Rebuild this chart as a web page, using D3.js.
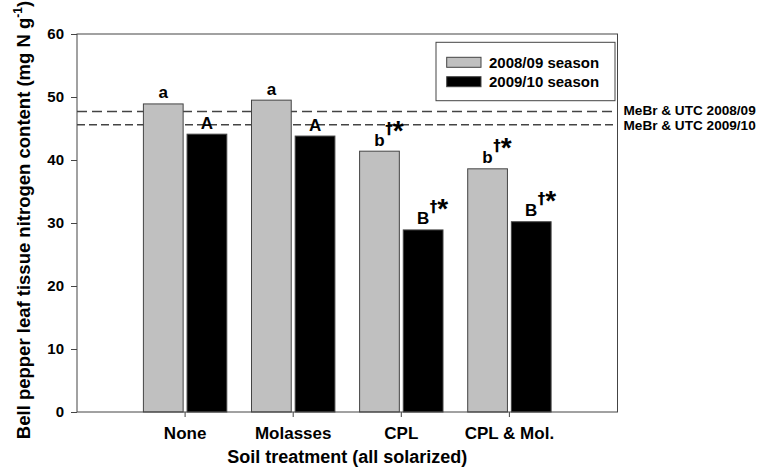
<!DOCTYPE html>
<html>
<head>
<meta charset="utf-8">
<script src="https://cdn.jsdelivr.net/npm/d3@7"></script>
<style>
  body { margin: 0; background: #fff; }
  text { font-family: "Liberation Sans", Arial, sans-serif; font-weight: bold; fill: #000; }
</style>
</head>
<body>
<div id="chart"></div>
<script>
// data
const categories = ['None', 'Molasses', 'CPL', 'CPL & Mol.'];
const seasons = ['2008/09 season', '2009/10 season'];
const values0809 = [48.9, 49.5, 41.4, 38.6];
const values0910 = [44.1, 43.8, 28.9, 30.2];
const letters0809 = ['a', 'a', 'b', 'b'];
const letters0910 = ['A', 'A', 'B', 'B'];
const marks0809 = ['', '', '†*', '†*'];
const marks0910 = ['', '', '†*', '†*'];
const refValues = [47.7, 45.6];
const refLabels = ['MeBr & UTC 2008/09', 'MeBr & UTC 2009/10'];
const yTicks = [0, 10, 20, 30, 40, 50, 60];

const seasonColors = ['#c0c0c0', '#000000'];
const refDash = ['10,5', '8,4'];
const refNudge = [-0.8, 0.8];

// set the dimensions and margins of the graph
let margin = { top: 34, right: 163.5, bottom: 56, left: 77 };
let width = 781 - margin.left - margin.right;
let height = 468 - margin.top - margin.bottom;

var svg = d3.select('#chart')
  .append('svg')
  .attr('width', 781)
  .attr('height', 468)
  .append('g')
  .attr('transform', 'translate(' + margin.left + ',' + margin.top + ')');

var x = d3.scaleBand().domain(categories).range([0, width]).paddingInner(0).paddingOuter(0.5);
var xs = d3.scaleBand().domain(seasons).range([-41.7, 41.7]).paddingInner(0.09);
var y = d3.scaleLinear().domain([0, 60]).range([height, 0]);

var rows = [];
categories.forEach(function(c, i) {
  rows.push({ cat: c, season: seasons[0], value: values0809[i], letter: letters0809[i], mark: marks0809[i], color: seasonColors[0] });
  rows.push({ cat: c, season: seasons[1], value: values0910[i], letter: letters0910[i], mark: marks0910[i], color: seasonColors[1] });
});

/* reference dashed lines (behind bars) */
refValues.forEach(function(v, i) {
  svg.append('line')
    .attr('x1', 0).attr('x2', width)
    .attr('y1', y(v)).attr('y2', y(v))
    .attr('stroke', '#444')
    .attr('stroke-width', 1.4)
    .attr('stroke-dasharray', refDash[i]);
  svg.append('text')
    .attr('x', width + 6)
    .attr('y', y(v) + refNudge[i])
    .attr('dy', '0.32em')
    .attr('font-size', 13.6)
    .text(refLabels[i]);
});

/* bars */
var cx = d => x(d.cat) + x.bandwidth() / 2 + xs(d.season) + xs.bandwidth() / 2;

svg.selectAll('.bar')
  .data(rows)
  .enter()
  .append('rect')
  .attr('class', 'bar')
  .attr('x', d => x(d.cat) + x.bandwidth() / 2 + xs(d.season))
  .attr('width', xs.bandwidth())
  .attr('y', d => y(d.value))
  .attr('height', d => height - y(d.value))
  .attr('fill', d => d.color)
  .attr('stroke', '#444')
  .attr('stroke-width', 1);

/* letters with superscript marks */
rows.forEach(function(d) {
  var by = y(d.value) - 5.5;
  var base = svg.append('text')
    .attr('x', cx(d))
    .attr('y', by)
    .attr('text-anchor', 'middle')
    .attr('font-size', 17)
    .text(d.letter);
  if (d.mark) {
    var w = base.node().getComputedTextLength();
    var bx = cx(d) + w / 2 + 0.5;
    svg.append('text')
      .attr('x', bx)
      .attr('y', by - 12)
      .attr('font-size', 15)
      .style('font-family', '"DejaVu Sans", sans-serif')
      .text(d.mark[0]);
    svg.append('text')
      .attr('x', bx + 7.5)
      .attr('y', by - 6)
      .attr('font-size', 28)
      .text(d.mark[1]);
  }
});

/* frame */
svg.append('rect')
  .attr('width', width)
  .attr('height', height)
  .attr('fill', 'none')
  .attr('stroke', '#444')
  .attr('stroke-width', 1);

/* axes */
var yAxis = svg.append('g')
  .call(d3.axisLeft(y).tickValues(yTicks).tickSize(6).tickPadding(7));
yAxis.select('.domain').remove();
yAxis.selectAll('line').attr('stroke', '#444');
yAxis.selectAll('text').attr('font-size', 15).attr('font-family', null);

var xAxis = svg.append('g')
  .attr('transform', 'translate(0,' + height + ')')
  .call(d3.axisBottom(x).tickSize(5).tickPadding(10));
xAxis.select('.domain').remove();
xAxis.selectAll('line').attr('stroke', '#444');
xAxis.selectAll('text').attr('font-size', 17).attr('font-family', null);

/* legend */
var legend = svg.append('g');
legend.append('rect')
  .attr('x', 359).attr('y', 8.3)
  .attr('width', 179).attr('height', 58.4)
  .attr('fill', '#fff')
  .attr('stroke', '#444');
seasons.forEach(function(s, i) {
  legend.append('rect')
    .attr('x', 369.7).attr('y', 23.3 + i * 19.4)
    .attr('width', 34.3).attr('height', 10)
    .attr('fill', seasonColors[i])
    .attr('stroke', '#444');
  legend.append('text')
    .attr('x', 412).attr('y', 33.5 + i * 19.4)
    .attr('font-size', 15)
    .text(s);
});

/* axis titles */
svg.append('text')
  .attr('x', width / 2)
  .attr('y', 429.3)
  .attr('text-anchor', 'middle')
  .attr('font-size', 18)
  .text('Soil treatment (all solarized)');

var yt = svg.append('text')
  .attr('transform', 'translate(-47,' + (186) + ') rotate(-90)')
  .attr('text-anchor', 'middle')
  .attr('font-size', 18.5);
yt.append('tspan').text('Bell pepper leaf tissue nitrogen content (mg N g');
yt.append('tspan').attr('font-size', 12).attr('dy', -8).text('-1');
yt.append('tspan').attr('dy', 8).text(')');
</script>
</body>
</html>
